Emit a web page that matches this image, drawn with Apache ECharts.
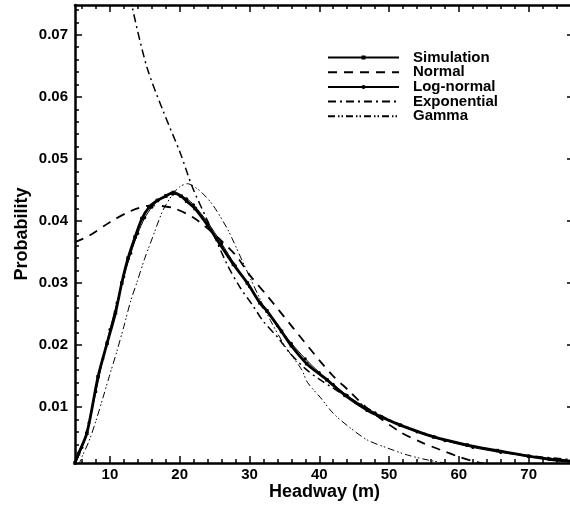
<!DOCTYPE html>
<html>
<head>
<meta charset="utf-8">
<script src="https://cdn.jsdelivr.net/npm/echarts@6/dist/echarts.min.js"></script>
<style>html,body{margin:0;padding:0;background:#fff}#c{width:570px;height:505px}</style>
</head>
<body>
<div id="c"></div>
<script>
// ---- data ----
const seriesNames = ['Simulation', 'Normal', 'Log-normal', 'Exponential', 'Gamma'];
const xMajorTicks = [10, 20, 30, 40, 50, 60, 70];
const yMajorTicks = [0.01, 0.02, 0.03, 0.04, 0.05, 0.06, 0.07];

const simulation = [
  [5.0,0.0010],[5.5,0.0025],[6.7,0.0058],[8.3,0.0149],[9.6,0.0203],[10.8,0.0252],
  [11.7,0.0300],[12.6,0.0340],[13.6,0.0374],[14.6,0.0404],[15.6,0.0422],[16.8,0.0433],
  [18.0,0.0440],[19.1,0.0446],[20.2,0.0440],[21.0,0.0432],[22.2,0.0420],[24.0,0.0393],
  [25.8,0.0362],[27.7,0.0330],[29.7,0.0300],[31.5,0.0268],[32.5,0.0255],[34.6,0.0222],
  [36.0,0.0199],[38.2,0.0170],[41.1,0.0144],[43.7,0.0119],[46.9,0.0095],[48.9,0.0084],
  [51.6,0.0071],[56.4,0.0052],[61.2,0.0039],[65.5,0.0030],[70.0,0.0021],[73.0,0.0016],[76.5,0.0012]
];
const normal = [
  [5,0.0366],[7,0.0376],[10,0.0398],[13,0.0416],[16,0.0425],[19,0.0421],[22,0.0405],
  [25,0.0378],[28,0.0345],[30.1,0.0312],[32.5,0.0280],[36.3,0.0227],[40.2,0.0173],
  [42,0.0150],[44.2,0.0127],[47,0.0097],[51.6,0.0060],[54.5,0.0044],[57.4,0.0031],
  [60,0.0020],[62,0.0013],[64,0.0008],[66,0.0005]
];
const logNormal = [
  [5,0.0008],[6,0.0035],[7,0.0075],[8,0.0125],[9,0.0178],[10,0.0225],[11,0.0268],
  [12,0.0310],[13,0.0348],[14,0.0380],[15,0.0405],[16,0.0422],[17,0.0434],[18,0.0441],
  [19,0.0443],[20,0.0441],[21,0.0436],[22,0.0426],[24,0.0398],[26,0.0364],[28,0.0328],
  [30,0.0294],[32,0.0261],[34,0.0231],[36,0.0203],[38,0.0178],[40,0.0156],[42,0.0137],
  [44,0.0119],[46,0.0104],[48,0.0091],[50,0.0079],[54,0.0060],[58,0.0046],[62,0.0035],
  [66,0.0027],[70,0.0021],[76.5,0.0014]
];
const exponential = [
  [12.6,0.0790],[13.2,0.0745],[15.3,0.0648],[17.6,0.0578],[20.1,0.0509],[21.8,0.0455],
  [24,0.0400],[26.8,0.0330],[28.7,0.0292],[30.4,0.0265],[32,0.0238],[34,0.0213],
  [35.8,0.0187],[38,0.0162],[40,0.0145],[45,0.0110],[50,0.0080],[55,0.0058],
  [60,0.0042],[65,0.0031],[70,0.0022],[76.5,0.0015]
];
const gamma = [
  [5.5,0.0005],[6,0.0020],[7,0.0045],[8,0.0078],[9,0.0115],[9.9,0.0149],[11,0.0190],
  [12,0.0230],[13,0.0272],[13.9,0.0302],[15,0.0340],[15.8,0.0364],[17.6,0.0417],
  [19,0.0443],[20,0.0455],[21.1,0.0460],[22.5,0.0452],[23.5,0.0442],[24.8,0.0425],
  [26.8,0.0388],[27.5,0.0372],[29,0.0335],[31.1,0.0284],[33,0.0240],[35,0.0200],
  [37.5,0.0160],[38.3,0.0140],[40.2,0.0115],[42,0.0090],[44.5,0.0066],[46.9,0.0047],
  [49.8,0.0034],[52.6,0.0023],[55.5,0.0015],[58,0.0010],[61,0.0006]
];
const xRange = [5, 76.5];
const yRange = [0.001, 0.0748];

// ---- chart ----
function range(a, b, step, skip) {
  const out = [];
  for (let v = a; v <= b + 1e-9; v += step) {
    const r = Math.round(v * 100000) / 100000;
    if (!skip.some(s => Math.abs(s - r) < 1e-9)) out.push(r);
  }
  return out;
}
const xMinor = range(6, 76, 2, xMajorTicks);
const yMinor = range(0.002, 0.074, 0.002, yMajorTicks);
const font = 'Liberation Sans, Arial, sans-serif';

function xAx(pos, ticks, len, showLine, showLabel, name) {
  return {
    type: 'value', position: pos, min: xRange[0], max: xRange[1],
    splitLine: { show: false },
    axisLine: { show: showLine, onZero: false, lineStyle: { color: '#000', width: 2.5 } },
    axisTick: { show: true, inside: true, length: len, customValues: ticks, lineStyle: { color: '#000', width: 1.5 } },
    axisLabel: showLabel ? { show: true, customValues: ticks, margin: 4, color: '#000', fontFamily: font, fontWeight: 'bold', fontSize: 15 } : { show: false },
    name: name || '', nameLocation: 'middle', nameGap: 20, nameMoveOverlap: false,
    nameTextStyle: { color: '#000', fontFamily: font, fontWeight: 'bold', fontSize: 18 }
  };
}
function yAx(pos, ticks, len, showLine, showLabel, name) {
  return {
    type: 'value', position: pos, min: yRange[0], max: yRange[1],
    splitLine: { show: false },
    axisLine: { show: showLine, onZero: false, lineStyle: { color: '#000', width: 2.5 } },
    axisTick: { show: true, inside: true, length: len, customValues: ticks, lineStyle: { color: '#000', width: 1.5 } },
    axisLabel: showLabel ? { show: true, customValues: ticks, margin: 7, color: '#000', fontFamily: font, fontWeight: 'bold', fontSize: 15,
      formatter: v => v.toFixed(2) } : { show: false },
    name: name || '', nameLocation: 'middle', nameGap: 44, nameRotate: 90, nameMoveOverlap: false,
    nameTextStyle: { color: '#000', fontFamily: font, fontWeight: 'bold', fontSize: 18 }
  };
}

const hiddenSymbol = { opacity: 0 };
const chart = echarts.init(document.getElementById('c'), null, { renderer: 'canvas' });
chart.setOption({
  animation: false,
  backgroundColor: '#fff',
  grid: { left: 75, right: -4, top: 5, bottom: 42, outerBoundsMode: 'none', containLabel: false },
  legend: {
    orient: 'vertical', left: 322, top: 45,
    itemWidth: 71, itemHeight: 5, itemGap: -0.3,
    data: [
      { name: seriesNames[0] },
      { name: seriesNames[1], itemStyle: hiddenSymbol },
      { name: seriesNames[2] },
      { name: seriesNames[3], itemStyle: hiddenSymbol },
      { name: seriesNames[4], itemStyle: hiddenSymbol }
    ],
    textStyle: { color: '#000', fontFamily: font, fontWeight: 'bold', fontSize: 15, lineHeight: 14.5, padding: [0, 0, 0, 9] }
  },
  xAxis: [
    xAx('bottom', xMajorTicks, 7, true, true, 'Headway (m)'),
    xAx('bottom', xMinor, 4, false, false),
    xAx('top', xMajorTicks, 7, true, false),
    xAx('top', xMinor, 4, false, false)
  ],
  yAxis: [
    yAx('left', yMajorTicks, 7, true, true, 'Probability'),
    yAx('left', yMinor, 4, false, false),
    yAx('right', yMajorTicks, 7, false, false)
  ],
  series: [
    { name: seriesNames[0], type: 'line', data: simulation, smooth: 0.3, clip: true,
      symbol: 'rect', symbolSize: 3.5, showSymbol: true,
      lineStyle: { color: '#000', width: 2.8 }, itemStyle: { color: '#000' } },
    { name: seriesNames[1], type: 'line', data: normal, smooth: 0.3, clip: true, symbol: 'none',
      lineStyle: { color: '#000', width: 1.8, type: [9, 7] }, itemStyle: { color: '#000' } },
    { name: seriesNames[2], type: 'line', data: logNormal, smooth: 0.3, clip: true,
      symbol: 'circle', symbolSize: 3, showSymbol: true,
      lineStyle: { color: '#000', width: 1 }, itemStyle: { color: '#000' } },
    { name: seriesNames[3], type: 'line', data: exponential, smooth: 0.3, clip: true, symbol: 'none',
      lineStyle: { color: '#000', width: 1.5, type: [8, 4, 2, 4] }, itemStyle: { color: '#000' } },
    { name: seriesNames[4], type: 'line', data: gamma, smooth: 0.3, clip: true, symbol: 'none',
      lineStyle: { color: '#000', width: 1, type: [7, 3, 1.5, 2, 1.5, 3] }, itemStyle: { color: '#000' } }
  ]
});
</script>
</body>
</html>
